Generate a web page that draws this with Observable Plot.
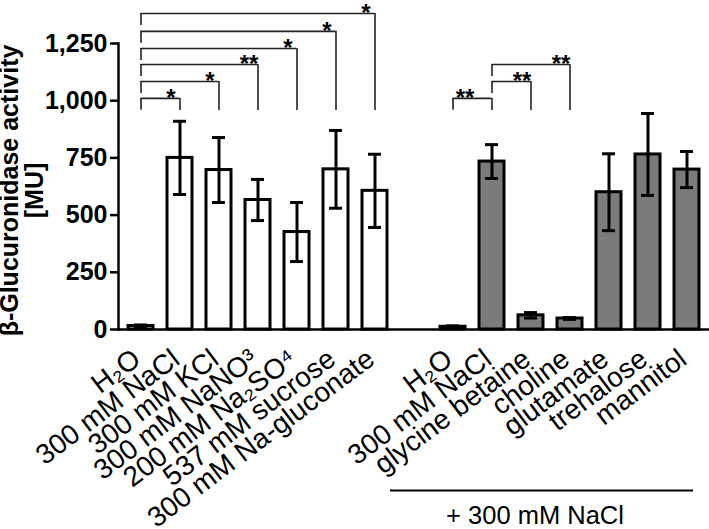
<!DOCTYPE html>
<html><head><meta charset="utf-8">
<script src="https://cdn.jsdelivr.net/npm/d3@7"></script>
<script src="https://cdn.jsdelivr.net/npm/@observablehq/plot@0.6"></script>
<style>body{margin:0;background:#fff}</style>
</head><body><div id="chart"></div>
<script>
// categories (key, label, group)
const keys = ["w_h2o","w_nacl","w_kcl","w_nano3","w_na2so4","w_sucrose","w_gluconate","gap","s_h2o","s_nacl","s_gb","s_choline","s_glutamate","s_trehalose","s_mannitol"];
const labels = ["H₂O","300 mM NaCl","300 mM KCl","300 mM NaNO³","200 mM Na₂SO⁴","537 mM sucrose","300 mM Na-gluconate","","H₂O","300 mM NaCl","glycine betaine","choline","glutamate","trehalose","mannitol"];
const groups = ["salt","salt","salt","salt","salt","salt","salt","gap","osmo","osmo","osmo","osmo","osmo","osmo","osmo"];
// series values [MU]
const means = [15,750,697,566,426,700,606,null,12,734,62,48,600,765,699];
const sds   = [5,160,142,90,129,170,160,null,4,74,12,4,168,179,79];
// y ticks
const yTicks = [0,250,500,750,1000,1250];
const yTitle = "β-Glucuronidase activity\n[MU]";
const caption = "+ 300 mM NaCl";
// significance brackets
const bracketFrom  = ["w_h2o","w_h2o","w_h2o","w_h2o","w_h2o","w_h2o","s_h2o","s_nacl","s_nacl"];
const bracketTo    = ["w_nacl","w_kcl","w_nano3","w_na2so4","w_sucrose","w_gluconate","s_nacl","s_gb","s_choline"];
const bracketLevel = [1010,1084,1158,1228,1303,1381,1010,1084,1158];
const bracketStars = ["*","*","**","*","*","*","**","**","**"];
const bracketStarSide = ["end","end","end","end","end","end","start","end","end"];

const labelOf = new Map(keys.map((k,i)=>[k,labels[i]]));
const rows = keys.map((k,i)=>({key:k, group:groups[i], mean:means[i], sd:sds[i]})).filter(d=>d.mean!=null);
const brackets = bracketFrom.map((f,i)=>({from:f, to:bracketTo[i], level:bracketLevel[i], stars:bracketStars[i], side:bracketStarSide[i]}));
const bracketBase = 957, bracketDrop = 52;
const yMid = (yTicks[0] + yTicks[yTicks.length-1]) / 2;

const chart = Plot.plot({
  width: 709, height: 529,
  marginTop: 43, marginRight: 0, marginBottom: 200, marginLeft: 118,
  x: {domain: keys, paddingInner: 0.36, paddingOuter: 0.217, label: null},
  y: {domain: [0,1250], label: null},
  style: {fontFamily: "'Liberation Sans', Arial, sans-serif", background: "white", color: "black", overflow: "visible"},
  marks: [
    Plot.barY(rows.filter(d=>d.group==="salt"), {x:"key", y:"mean", fill:"white", stroke:"black", strokeWidth:3}),
    Plot.barY(rows.filter(d=>d.group==="osmo"), {x:"key", y:"mean", fill:"#7b7b7b", stroke:"black", strokeWidth:3}),
    Plot.ruleX(rows, {x:"key", y1:d=>d.mean-d.sd, y2:d=>d.mean+d.sd, stroke:"black", strokeWidth:3}),
    Plot.tickY(rows, {x:"key", y:d=>d.mean+d.sd, stroke:"black", strokeWidth:3, insetLeft:6, insetRight:6}),
    Plot.tickY(rows, {x:"key", y:d=>d.mean-d.sd, stroke:"black", strokeWidth:3, insetLeft:6, insetRight:6}),
    // brackets
    Plot.ruleY(brackets, {x1:"from", x2:"to", y:"level", stroke:"#222", strokeWidth:1.6, insetLeft:12.5, insetRight:12.5}),
    Plot.ruleX(brackets, {x:"from", y1:d=>d.level-bracketDrop, y2:"level", stroke:"#222", strokeWidth:1.6}),
    Plot.ruleX(brackets, {x:"to", y1:()=>bracketBase, y2:"level", stroke:"#222", strokeWidth:1.6}),
    Plot.text(brackets.filter(d=>d.side==="end"), {x:"to", y:"level", text:"stars", dx:-9, dy:0, fontSize:24, fontWeight:"bold", lineAnchor:"middle"}),
    Plot.text(brackets.filter(d=>d.side==="start"), {x:"from", y:"level", text:"stars", dx:12, dy:0, fontSize:24, fontWeight:"bold", lineAnchor:"middle"}),
    // axes
    Plot.axisY({ticks: yTicks, tickFormat: d3.format(","), tickSize: 8, tickPadding: 3, fontSize: 25, fontWeight: "bold", strokeWidth: 2.5, label: null}),
    Plot.frame({anchor: "left", strokeWidth: 2.5}),
    Plot.ruleY([0], {strokeWidth: 2.5}),
    Plot.axisX({tickSize: 0, tickRotate: -37, tickPadding: 26, dx: -4, fontSize: 28, tickFormat: k => labelOf.get(k), label: null}),
    Plot.text([yTitle], {x: () => keys[0], y: () => yMid, dx: -119, dy: 4, rotate: -90, text: d => d, textAnchor: "middle", fontSize: 25, fontWeight: "bold", lineHeight: 1, lineAnchor: "middle"}),
    // group annotation
    Plot.ruleY([0], {x1: ()=>"gap", x2: ()=>"s_mannitol", dy: 161, strokeWidth: 1.8, insetLeft: -11, insetRight: 6}),
    Plot.text([caption], {x: ()=>"s_gb", y: ()=>0, dx: 4, dy: 186, fontSize: 25.5, lineAnchor: "middle"})
  ]
});
document.getElementById("chart").append(chart);
</script>
</body></html>
